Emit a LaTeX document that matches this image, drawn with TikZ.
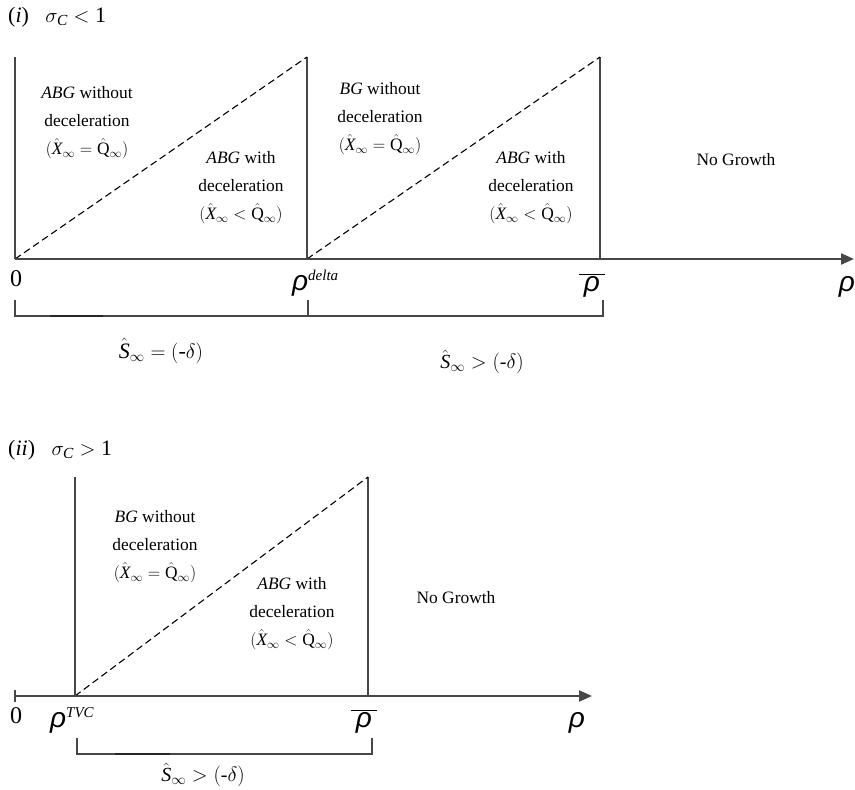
\documentclass[tikz,border=0pt]{standalone}
\usepackage{fontspec}
\setmainfont{Liberation Serif}
\newfontfamily\rhofont{Liberation Sans}
\usetikzlibrary{arrows.meta,positioning}
\newcommand{\rh}{{\rhofont\itshape ρ}}
\newcommand{\rhbar}{$\overline{\hbox{\,\rh\,}}$}
\newcommand{\supx}[1]{\raisebox{10pt}{\fontsize{15}{15}\selectfont\itshape #1}}
\tikzset{
    axisline/.style={draw=black!72, line width=2.2pt, -{Triangle[length=13pt,width=11pt]}},
    wall/.style={draw=black!72, line width=1.8pt},
    split/.style={draw=black, line width=1.1pt, dash pattern=on 7pt off 4pt},
    bracket/.style={draw=black!72, line width=1.6pt},
    darkpart/.style={draw=black!85, line width=2.4pt},
    region/.style={align=center, inner sep=0pt, font=\fontsize{17.4}{28}\selectfont},
    ticklabel/.style={anchor=base, inner sep=0pt, font=\fontsize{24}{24}\selectfont},
    rholabel/.style={anchor=base, inner sep=0pt, font=\fontsize{28}{28}\selectfont},
    caption/.style={anchor=west, inner sep=0pt, font=\fontsize{22}{24}\selectfont},
    gap/.style={inner sep=0pt, font=\fontsize{20}{22}\selectfont}
}
\begin{document}
\begin{tikzpicture}[x=1pt,y=-1pt]
\useasboundingbox (0,0) rectangle (855,790);

% (i) sigma_C < 1
\node[caption] (capi) at (8,17) {(\textit{i})\ \ \ $\sigma_{\mathit{C}} < \mathrm{1}$};

\coordinate (A0) at (15,259);
\coordinate (Ad) at (307,259);
\coordinate (Ab) at (600,259);
\coordinate (Aend) at (854,259);
\coordinate (A0t) at (15,57);
\coordinate (Adt) at (307,57);
\coordinate (Abt) at (600,57);

\draw[wall] (A0) -- (A0t);
\draw[wall] (Ad) -- (Adt);
\draw[wall] (Ab) -- (Abt);
\draw[split] (A0) -- (Adt);
\draw[split] (Ad) -- (Abt);
\draw[axisline] (A0) -- (Aend);

\node[region] (abgwo) at (87,123) {\textit{ABG} without\\deceleration\\$(\hat{\mathit{X}}_\infty = \hat{\mathrm{Q}}_\infty)$};
\node[region] (abgw) at (241,188) {\textit{ABG} with\\deceleration\\$(\hat{\mathit{X}}_\infty < \hat{\mathrm{Q}}_\infty)$};
\node[region] (bgwo) at (380,119) {\textit{BG} without\\deceleration\\$(\hat{\mathit{X}}_\infty = \hat{\mathrm{Q}}_\infty)$};
\node[region] (abgwb) at (531,188) {\textit{ABG} with\\deceleration\\$(\hat{\mathit{X}}_\infty < \hat{\mathrm{Q}}_\infty)$};
\node[region] (nogr) at (736,160) {No Growth};

\node[ticklabel] (zero) at (16,286) {0};
\node[rholabel, anchor=base west] (rdelta) at (292,290) {\rh\supx{delta}};
\node[rholabel] (rbar) at (592,291) {\rhbar};
\node[rholabel] (rend) at (847,291) {\rh};

\coordinate (B0) at (15,300);
\coordinate (Bd) at (308,300);
\coordinate (Bb) at (603,300);
\draw[bracket] (B0) |- (Bd |- 0,316) -- (Bd);
\draw[bracket] (Bd |- 0,316) -| (Bb);
\draw[darkpart] (50,316) -- (103,316);

\node[gap, font=\fontsize{22}{24}\selectfont] (sleft) at (161,351) {$\hat{\mathit{S}}_\infty = (\mbox{-}\delta)$};
\node[gap] (sright) at (482,362) {$\hat{\mathit{S}}_\infty > (\mbox{-}\delta)$};

% (ii) sigma_C > 1
\node[caption] (capii) at (8,450) {(\textit{ii})\ \ \ $\sigma_{\mathit{C}} > \mathrm{1}$};

\coordinate (C0) at (15,696);
\coordinate (Ct) at (75,696);
\coordinate (Cb) at (368,696);
\coordinate (Cend) at (592,696);
\coordinate (Ctt) at (75,477);
\coordinate (Cbt) at (368,477);

\draw[wall] (Ct) -- (Ctt);
\draw[wall] (Cb) -- (Cbt);
\draw[split] (Ct) -- (Cbt);
\draw[axisline] (C0) -- (Cend);
\draw[bracket, line width=1.2pt] (15,690) -- (15,702);

\node[region] (bgwo2) at (155,547) {\textit{BG} without\\deceleration\\$(\hat{\mathit{X}}_\infty = \hat{\mathrm{Q}}_\infty)$};
\node[region] (abgw2) at (292,614) {\textit{ABG} with\\deceleration\\$(\hat{\mathit{X}}_\infty < \hat{\mathrm{Q}}_\infty)$};
\node[region] (nogr2) at (456,598) {No Growth};

\node[ticklabel] (zero2) at (16,723) {0};
\node[rholabel, anchor=base west] (rtvc) at (50,727) {\rh\supx{TVC}};
\node[rholabel] (rbar2) at (364,727) {\rhbar};
\node[rholabel] (rend2) at (577,727) {\rh};

\coordinate (D0) at (77,738);
\coordinate (Db) at (372,738);
\draw[bracket] (D0) |- (Db |- 0,754) -- (Db);
\draw[darkpart] (115,754) -- (170,754);

\node[gap] (sbottom) at (203,775) {$\hat{\mathit{S}}_\infty > (\mbox{-}\delta)$};
\end{tikzpicture}
\end{document}
